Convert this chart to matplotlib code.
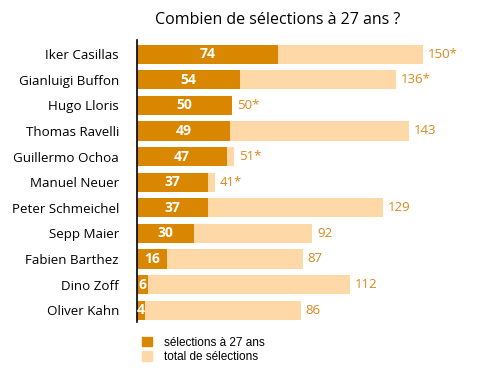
import matplotlib
matplotlib.use("Agg")
import matplotlib.pyplot as plt
from matplotlib.patches import Patch

players = ["Iker Casillas", "Gianluigi Buffon", "Hugo Lloris", "Thomas Ravelli",
           "Guillermo Ochoa", "Manuel Neuer", "Peter Schmeichel", "Sepp Maier",
           "Fabien Barthez", "Dino Zoff", "Oliver Kahn"]
caps_at_27 = [74, 54, 50, 49, 47, 37, 37, 30, 16, 6, 4]
total_caps = [150, 136, 50, 143, 51, 41, 129, 92, 87, 112, 86]
active = [True, True, True, False, True, True, False, False, False, False, False]

dark = "#d98600"
light = "#fed8a7"
lab = "#d9881a"
font = "Open Sans"

fig = plt.figure(figsize=(5, 3.72), dpi=100)
ax = fig.add_axes([0.274, 0.134, 0.686, 0.758])

y = list(range(len(players)))
ax.barh(y, total_caps, height=0.75, color=light, zorder=1)
ax.barh(y, caps_at_27, height=0.75, color=dark, zorder=2)

for yi, c27, tot, act in zip(y, caps_at_27, total_caps, active):
    ax.text(c27 / 2, yi, str(c27), ha="center", va="center", color="white",
            fontsize=10, fontweight="bold", family=font, zorder=3)
    ax.text(tot + 2.5, yi, f"{tot}*" if act else str(tot), ha="left", va="center",
            color=lab, fontsize=9.5, family=font)

ax.set_xlim(0, 180)
ax.set_ylim(10.47, -0.547)
ax.set_yticks(y)
ax.set_yticklabels(players, fontsize=9.6, family=font)
ax.tick_params(axis="y", length=0, pad=13)
ax.set_xticks([])
for s in ["top", "right", "bottom"]:
    ax.spines[s].set_visible(False)
ax.spines["left"].set_linewidth(1.2)
ax.spines["left"].set_color("black")

fig.text(0.556, 1 - 20 / 372, "Combien de sélections à 27 ans ?", ha="center",
         va="center", fontsize=11.5, fontweight="medium", family=font)

handles = [Patch(color=dark, label="sélections à 27 ans"),
           Patch(color=light, label="total de sélections")]
fig.legend(handles=handles, loc="upper left", bbox_to_anchor=(0.262, 1 - 326 / 372),
           frameon=False, handlelength=0.9, handleheight=0.9, handletextpad=1.0,
           labelspacing=0.2, prop={"family": "Liberation Sans", "size": 8.5})

fig.savefig("out.png", dpi=100)
